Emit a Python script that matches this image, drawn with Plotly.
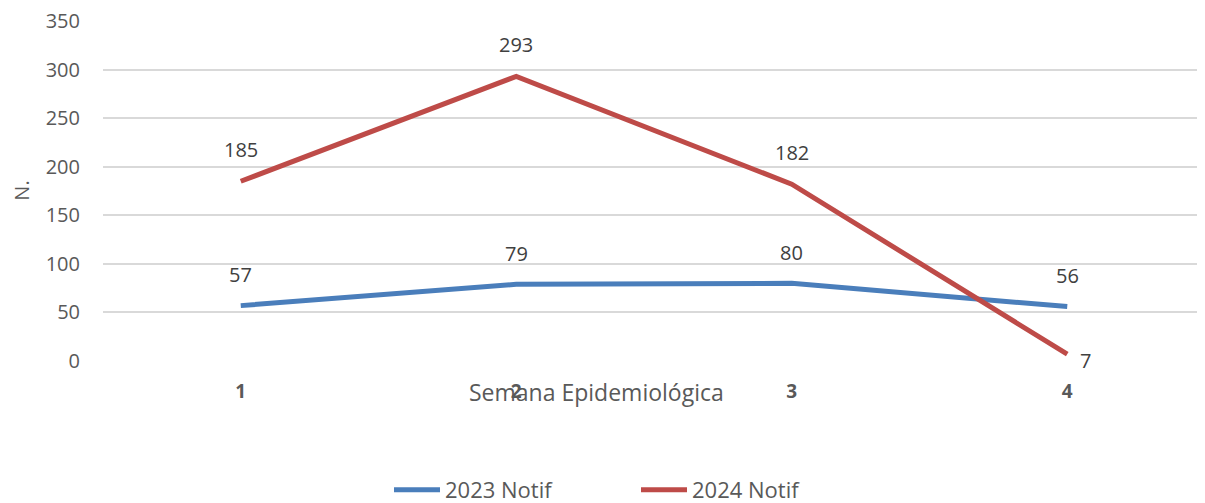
import plotly.graph_objects as go

weeks = ["1", "2", "3", "4"]
notif_2023 = [57, 79, 80, 56]
notif_2024 = [185, 293, 182, 7]
y_ticks = [0, 50, 100, 150, 200, 250, 300, 350]

# the page body has an 8px margin, so the figure is drawn 8px smaller
OFF = 8
W, H = 1205 - OFF, 503 - OFF
ML, MR, MT = 103 - OFF, 0, 20 - OFF
PH = 341
MB = H - MT - PH
PW = W - ML - MR
FONT = "Open Sans"
GREY = "#595959"
LBL = "#404040"
BLUE = "#4A7EBB"
RED = "#BE4B48"

fig = go.Figure()
fig.add_trace(go.Scatter(x=weeks, y=notif_2023, mode="lines", name="2023 Notif",
                         line=dict(color=BLUE, width=5)))
fig.add_trace(go.Scatter(x=weeks, y=notif_2024, mode="lines", name="2024 Notif",
                         line=dict(color=RED, width=5)))

# data labels (category index positions)
for i, v in enumerate(notif_2023):
    fig.add_annotation(x=i, y=v, xref="x", yref="y", text=str(v), showarrow=False, yshift=31,
                       font=dict(family=FONT, size=20, color=LBL))
for i, v in enumerate(notif_2024):
    if i == len(notif_2024) - 1:
        fig.add_annotation(x=i, y=v, xref="x", yref="y", text=str(v), showarrow=False,
                           xshift=18, yshift=-6, font=dict(family=FONT, size=20, color=LBL))
    else:
        fig.add_annotation(x=i, y=v, xref="x", yref="y", text=str(v), showarrow=False,
                           yshift=32, font=dict(family=FONT, size=20, color=LBL))

# x axis title (overlapping tick labels as in the reference)
fig.add_annotation(x=(596 - OFF - ML) / PW, xref="paper", y=-31 / PH, yref="paper",
                   xanchor="center", yanchor="middle",
                   text="Semana Epidemiológica", showarrow=False,
                   font=dict(family=FONT, size=23, color=GREY))

fig.update_layout(
    width=W, height=H,
    margin=dict(l=ML, r=MR, t=MT, b=MB, autoexpand=False),
    plot_bgcolor="white", paper_bgcolor="white",
    font=dict(family=FONT, size=20, color=GREY),
    showlegend=True,
    legend=dict(orientation="h", x=(389 - OFF - ML) / PW, xanchor="left",
                y=(361 - 490) / PH, yanchor="middle",
                font=dict(family=FONT, size=22, color=GREY),
                itemwidth=46, tracegroupgap=0, entrywidth=186, entrywidthmode="pixels"),
    xaxis=dict(type="category", range=[-0.5, 3.5], showgrid=False, zeroline=False,
               showline=False, ticks="",
               tickfont=dict(family=FONT, size=19, color=GREY, weight="bold"),
               ticklabelstandoff=17),
    yaxis=dict(range=[0, 351], tickvals=y_ticks, showgrid=True, gridcolor="#D9D9D9",
               gridwidth=1.5, zeroline=False, showline=False, ticks="",
               ticklabeloverflow="allow",
               tickfont=dict(family=FONT, size=20, color=GREY),
               title=dict(text="N.", font=dict(family=FONT, size=20, color=GREY), standoff=20),
               ticklabelstandoff=22),
)

fig.write_html("out.html")
